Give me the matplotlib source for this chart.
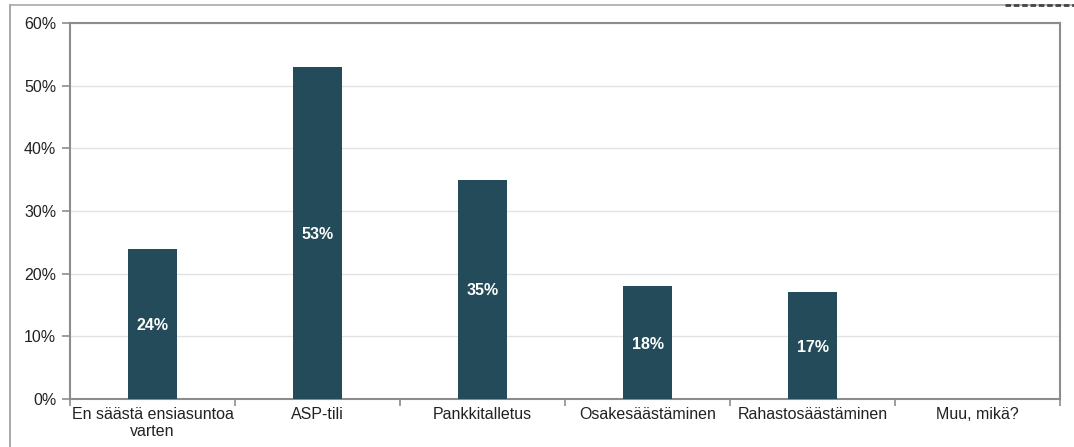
import numpy as np
import matplotlib.pyplot as plt
from matplotlib.lines import Line2D

plt.rcParams['font.family'] = ['Liberation Sans', 'DejaVu Sans']

kategoriat = ['En säästä ensiasuntoa\nvarten', 'ASP-tili', 'Pankkitalletus',
              'Osakesäästäminen', 'Rahastosäästäminen', 'Muu, mikä?']
osuudet = [24, 53, 35, 18, 17, 0]
y_tikit = [0, 10, 20, 30, 40, 50, 60]

vari = '#234b5a'
reuna = '#8c8c8c'

fig = plt.figure(figsize=(10.74, 4.47), dpi=100)
ax = fig.add_axes([0.0652, 0.1074, 0.9218, 0.8411])

x = np.arange(len(kategoriat))
palkit = ax.bar(x, osuudet, width=0.3, color=vari, zorder=3)

# arvot palkkien keskelle
for p, v in zip(palkit, osuudet):
    if v > 0:
        ax.text(p.get_x() + p.get_width() / 2, v / 2, f'{v}%', ha='center',
                va='center_baseline', color='white', fontsize=11.5,
                fontweight='bold', zorder=4)

ax.set_xlim(-0.5, len(kategoriat) - 0.5)
ax.set_ylim(0, 60)
ax.set_yticks(y_tikit)
ax.set_yticklabels([f'{t}%' for t in y_tikit], fontsize=11.5, color='#222222')
ax.yaxis.grid(True, color='#e2e2e2', linewidth=1, zorder=0)

# kategorianimet palkkien alle, tikit ryhmien rajoille
ax.set_xticks(x)
ax.set_xticklabels(kategoriat, fontsize=11.5, color='#222222', linespacing=1.1)
ax.tick_params(axis='x', length=0, pad=6)
ax.set_xticks(np.arange(-0.5, len(kategoriat)), minor=True)
ax.tick_params(axis='x', which='minor', length=5, color=reuna, width=1.2)
ax.tick_params(axis='y', length=6, color=reuna, width=1.2, pad=4)

for s in ax.spines.values():
    s.set_color(reuna)
    s.set_linewidth(1.5)

# sivun kehys vasemmalla ja ylhäällä
fig.add_artist(Line2D([10 / 1074, 10 / 1074], [0, 1 - 5 / 447], color='#999999',
                      linewidth=1.2, transform=fig.transFigure))
fig.add_artist(Line2D([10 / 1074, 1], [1 - 5 / 447, 1 - 5 / 447], color='#aaaaaa',
                      linewidth=1.2, transform=fig.transFigure))
fig.add_artist(Line2D([1005 / 1074, 1], [1 - 5 / 447, 1 - 5 / 447], color='#444444',
                      linewidth=2, linestyle=(0, (2, 1)), transform=fig.transFigure))

fig.savefig('out.png', dpi=100)
